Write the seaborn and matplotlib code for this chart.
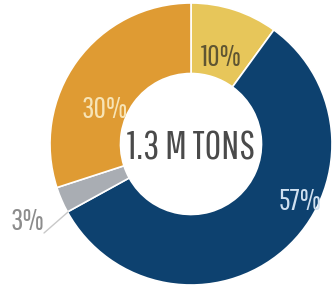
import matplotlib
matplotlib.use("Agg")
import matplotlib.pyplot as plt
import seaborn as sns

# slices, clockwise from 12 o'clock
labels = ["10%", "57%", "3%", "30%"]
shares = [10, 57, 3, 30]
colors = ["#E7C65A", "#0D416F", "#A9ADB3", "#DF9B33"]
label_colors = ["#5f5532", "#CFE0F0", "#8c8c8c", "#F7E4B6"]
center_text = "1.3 M TONS"

sns.set_theme(style="white")
plt.rcParams['font.family'] = ['Pathway Gothic One', 'DejaVu Sans']

W, H = 336, 290
fig = plt.figure(figsize=(W / 100, H / 100), dpi=100)
ax = fig.add_axes([0, 0, 1, 1])

cx, cy, r = 191, 146, 141
ax.pie(shares, colors=colors, startangle=90, counterclock=False,
       center=(cx, cy), radius=r, frame=True,
       wedgeprops=dict(width=r * 0.5, edgecolor="white", linewidth=1.2))
ax.set_xlim(0, W)
ax.set_ylim(0, H)
ax.axis("off")

# label spots (pixels, from top)
spots = [(221, 58), (300, 202), (27, 222), (105, 109)]
for lab, col, (x, y) in zip(labels, label_colors, spots):
    ax.text(x, H - y, lab, color=col, fontsize=22, ha="center", va="center")

# leader for the small slice
ax.plot([44, 68], [H - 233, H - 212], color="#c8c8c8", lw=1)

ax.text(cx, H - 149, center_text, color="#4a4a4a", fontsize=29,
        ha="center", va="center")

fig.savefig("out.png", dpi=100)
